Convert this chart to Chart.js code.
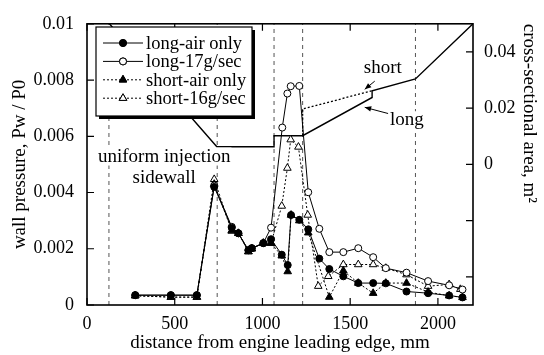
<!DOCTYPE html>
<html>
<head>
<meta charset="utf-8">
<script src="https://cdn.jsdelivr.net/npm/chart.js@4.4.0/dist/chart.umd.min.js"></script>
<style>
    html, body { margin: 0; padding: 0; background: #fff; }
    #wrap { width: 544px; height: 355px; }
</style>
</head>
<body>
<div id="wrap"><canvas id="chart" width="544" height="355"></canvas></div>
<script>
// Pressure taps, distance from engine leading edge (mm) and Pw/P0
const longAirX = [275, 478, 626, 725, 825, 863, 920, 939, 1005, 1049, 1110, 1144, 1163, 1210, 1261, 1324, 1381, 1461, 1546, 1631, 1703, 1821, 1944, 2064, 2140];
const longAirP = [0.00035, 0.00035, 0.00035, 0.0042, 0.00275, 0.00255, 0.00195, 0.00202, 0.0022, 0.00234, 0.00179, 0.00142, 0.0032, 0.00303, 0.00269, 0.00165, 0.00128, 0.00102, 0.00078, 0.00078, 0.00077, 0.00048, 0.00042, 0.00034, 0.00027];

const long17X = [275, 478, 626, 725, 825, 863, 920, 939, 1005, 1049, 1113, 1142, 1161, 1210, 1261, 1324, 1381, 1461, 1546, 1631, 1703, 1821, 1944, 2064, 2140];
const long17P = [0.00035, 0.00035, 0.00035, 0.00425, 0.00278, 0.00255, 0.00195, 0.00202, 0.0022, 0.00275, 0.00631, 0.00752, 0.00778, 0.00779, 0.00401, 0.00271, 0.00188, 0.00188, 0.00202, 0.0017, 0.00131, 0.00115, 0.00085, 0.0007, 0.00055];

const shortAirX = [275, 478, 626, 725, 825, 863, 920, 939, 1005, 1049, 1110, 1144, 1163, 1210, 1261, 1381, 1461, 1546, 1631, 1703, 1821, 1944, 2064, 2140];
const shortAirP = [0.00033, 0.00028, 0.00028, 0.0043, 0.00265, 0.00255, 0.0019, 0.002, 0.0022, 0.0022, 0.00175, 0.00119, 0.0032, 0.003, 0.00257, 0.00028, 0.00122, 0.00078, 0.00042, 0.00078, 0.00078, 0.00046, 0.00033, 0.00027];

const short16X = [275, 478, 626, 725, 825, 863, 920, 939, 1005, 1049, 1110, 1142, 1161, 1205, 1258, 1318, 1375, 1461, 1546, 1631, 1703, 1821, 1944, 2064, 2128];
const short16P = [0.00033, 0.00028, 0.00028, 0.00447, 0.00263, 0.00255, 0.0019, 0.002, 0.0022, 0.0022, 0.00352, 0.00487, 0.00588, 0.00562, 0.0032, 0.00067, 0.00102, 0.00144, 0.00144, 0.00144, 0.00131, 0.00108, 0.00067, 0.00073, 0.00056];

// Cross-sectional area outline (right axis, m^2)
const longAreaX = [121, 740, 1066, 1066, 1229, 1625, 1625, 1872, 2200];
const longAreaA = [0.0505, 0.0063, 0.0063, 0.0102, 0.0102, 0.0238, 0.0262, 0.0304, 0.05];
const shortAreaX = [1229, 1229, 1625];
const shortAreaA = [0.0102, 0.0197, 0.0262];

// Section boundaries (dashed verticals)
const dividerX = [125, 742, 1066, 1229, 1872];

// Axis ticks
const xTicks = [0, 500, 1000, 1500, 2000];
const pTicks = [0, 0.002, 0.004, 0.006, 0.008, 0.01];
const areaTicks = [-0.04, -0.02, 0, 0.02, 0.04];

const seriesNames = ['long-air only', 'long-17g/sec', 'short-air only', 'short-16g/sec'];

const FONT = "'Liberation Serif', 'Times New Roman', serif";

function pairs(xs, ys) {
    return xs.map((x, i) => ({ x: x, y: ys[i] }));
}

function fmt(v) {
    if (Math.abs(v) < 1e-12) return '0';
    return String(parseFloat(v.toFixed(4)));
}

const seriesStyles = [
    { fill: '#000', style: 'circle', radius: 3.5, dash: [] },
    { fill: '#fff', style: 'circle', radius: 3.5, dash: [] },
    { fill: '#000', style: 'triangle', radius: 4.4, dash: [2, 2] },
    { fill: '#fff', style: 'triangle', radius: 4.4, dash: [2, 2] }
];
const seriesData = [
    pairs(longAirX, longAirP),
    pairs(long17X, long17P),
    pairs(shortAirX, shortAirP),
    pairs(short16X, short16P)
];

const datasets = [];
seriesData.forEach((d, i) => {
    const s = seriesStyles[i];
    datasets.push({
        label: seriesNames[i],
        data: d,
        yAxisID: 'y',
        borderColor: '#000',
        borderWidth: 1,
        borderDash: s.dash,
        backgroundColor: s.fill,
        pointStyle: s.style,
        pointRadius: s.radius,
        pointBorderWidth: 1,
        pointBorderColor: '#000',
        pointBackgroundColor: s.fill,
        tension: 0,
        order: 1
    });
});

datasets.push({
    label: 'long area',
    data: pairs(longAreaX, longAreaA),
    yAxisID: 'y2',
    borderColor: '#000',
    borderWidth: 1.4,
    pointRadius: 0,
    order: 2
});
datasets.push({
    label: 'short area',
    data: pairs(shortAreaX, shortAreaA),
    yAxisID: 'y2',
    borderColor: '#000',
    borderWidth: 1.3,
    borderDash: [2, 2],
    pointRadius: 0,
    order: 2
});

dividerX.forEach(x => {
    datasets.push({
        label: 'divider',
        data: [{ x: x, y: 0 }, { x: x, y: 0.01 }],
        yAxisID: 'y',
        borderColor: '#555',
        borderWidth: 1,
        borderDash: [4, 4],
        pointRadius: 0,
        order: 3
    });
});

// Text notes placed in data units
const notes = [
    { text: 'uniform injection', x: 440, y: 0.00528, axis: 'y' },
    { text: 'sidewall', x: 440, y: 0.00452, axis: 'y' },
    { text: 'short', x: 1686, y: 0.0341, axis: 'y2' },
    { text: 'long', x: 1823, y: 0.0157, axis: 'y2' }
];
const arrows = [
    { from: [1640, 0.0296], to: [1583, 0.0267] },
    { from: [1716, 0.0181], to: [1583, 0.0203] }
];

const notesPlugin = {
    id: 'notes',
    afterDatasetsDraw(chart) {
        const { ctx, scales } = chart;
        ctx.save();
        ctx.font = '19px ' + FONT;
        ctx.textAlign = 'center';
        ctx.textBaseline = 'middle';
        notes.forEach(n => {
            const px = scales.x.getPixelForValue(n.x);
            const py = scales[n.axis].getPixelForValue(n.y);
            const w = ctx.measureText(n.text).width;
            ctx.fillStyle = '#fff';
            ctx.fillRect(px - w / 2 - 1, py - 9, w + 2, 18);
            ctx.fillStyle = '#000';
            ctx.fillText(n.text, px, py);
        });
        ctx.strokeStyle = '#000';
        ctx.lineWidth = 1;
        arrows.forEach(a => {
            const x1 = scales.x.getPixelForValue(a.from[0]);
            const y1 = scales.y2.getPixelForValue(a.from[1]);
            const x2 = scales.x.getPixelForValue(a.to[0]);
            const y2 = scales.y2.getPixelForValue(a.to[1]);
            const ang = Math.atan2(y2 - y1, x2 - x1);
            ctx.beginPath();
            ctx.moveTo(x1, y1);
            ctx.lineTo(x2, y2);
            ctx.stroke();
            ctx.beginPath();
            ctx.moveTo(x2, y2);
            ctx.lineTo(x2 - 7 * Math.cos(ang - 0.4), y2 - 7 * Math.sin(ang - 0.4));
            ctx.lineTo(x2 - 7 * Math.cos(ang + 0.4), y2 - 7 * Math.sin(ang + 0.4));
            ctx.closePath();
            ctx.fillStyle = '#000';
            ctx.fill();
        });
        ctx.restore();
    }
};

const framePlugin = {
    id: 'frame',
    afterDatasetsDraw(chart) {
        const { ctx, chartArea: a, scales } = chart;
        ctx.save();
        ctx.strokeStyle = '#000';
        ctx.lineWidth = 1.6;
        ctx.strokeRect(a.left, a.top, a.right - a.left, a.bottom - a.top);
        ctx.lineWidth = 1.2;
        ctx.beginPath();
        scales.x.ticks.forEach(t => {
            const px = scales.x.getPixelForValue(t.value);
            ctx.moveTo(px, a.bottom);
            ctx.lineTo(px, a.bottom - 7);
            ctx.moveTo(px, a.top);
            ctx.lineTo(px, a.top + 7);
        });
        scales.y.ticks.forEach(t => {
            const py = scales.y.getPixelForValue(t.value);
            ctx.moveTo(a.left, py);
            ctx.lineTo(a.left + 7, py);
        });
        scales.y2.ticks.forEach(t => {
            const py = scales.y2.getPixelForValue(t.value);
            ctx.moveTo(a.right, py);
            ctx.lineTo(a.right - 7, py);
        });
        ctx.stroke();
        ctx.restore();
    }
};

const legendPlugin = {
    id: 'boxLegend',
    afterDraw(chart) {
        const { ctx } = chart;
        const box = { l: 96, t: 27, w: 156, h: 89 };
        ctx.save();
        ctx.fillStyle = '#000';
        ctx.fillRect(box.l + 3, box.t + 3, box.w, box.h);
        ctx.fillStyle = '#fff';
        ctx.fillRect(box.l, box.t, box.w, box.h);
        ctx.strokeStyle = '#000';
        ctx.lineWidth = 1.2;
        ctx.strokeRect(box.l, box.t, box.w, box.h);
        ctx.font = '18.5px ' + FONT;
        ctx.textBaseline = 'middle';
        ctx.textAlign = 'left';
        seriesNames.forEach((name, i) => {
            const s = seriesStyles[i];
            const y = box.t + 16 + i * 18.4;
            ctx.beginPath();
            ctx.setLineDash(s.dash);
            ctx.lineWidth = 1;
            ctx.moveTo(box.l + 7, y);
            ctx.lineTo(box.l + 47, y);
            ctx.stroke();
            ctx.setLineDash([]);
            Chart.helpers.drawPoint(ctx, {
                pointStyle: s.style, radius: s.radius, borderWidth: 1, rotation: 0
            }, box.l + 27, y);
            ctx.fillStyle = s.fill;
            ctx.fill();
            ctx.stroke();
            ctx.fillStyle = '#000';
            ctx.fillText(name, box.l + 50, y + 1);
        });
        ctx.restore();
    }
};

const ctx = document.getElementById('chart').getContext('2d');
new Chart(ctx, {
    type: 'line',
    data: { datasets: datasets },
    options: {
        responsive: false,
        animation: false,
        layout: { padding: { top: 15, left: 0, right: 0, bottom: 0 } },
        plugins: {
            legend: { display: false },
            tooltip: { enabled: false }
        },
        scales: {
            x: {
                type: 'linear',
                min: 0,
                max: 2200,
                afterBuildTicks: s => { s.ticks = xTicks.map(v => ({ value: v })); },
                afterFit: s => { s.height = 50; },
                grid: { display: false, drawTicks: false },
                border: { display: false },
                ticks: {
                    color: '#000',
                    font: { family: FONT, size: 18 },
                    padding: 8,
                    maxRotation: 0,
                    callback: v => fmt(v)
                },
                title: {
                    display: true,
                    text: 'distance from engine leading edge, mm',
                    color: '#000',
                    font: { family: FONT, size: 19 },
                    padding: { top: 0, bottom: 1 }
                }
            },
            y: {
                type: 'linear',
                position: 'left',
                min: 0,
                max: 0.01,
                afterBuildTicks: s => { s.ticks = pTicks.map(v => ({ value: v })); },
                afterFit: s => { s.width = 87; },
                grid: { display: false, drawTicks: false },
                border: { display: false },
                ticks: {
                    color: '#000',
                    font: { family: FONT, size: 18 },
                    padding: 13,
                    callback: v => fmt(v)
                },
                title: {
                    display: true,
                    text: 'wall pressure, Pw / P0',
                    color: '#000',
                    font: { family: FONT, size: 19 },
                    padding: { top: 9, bottom: 0 }
                }
            },
            y2: {
                type: 'linear',
                position: 'right',
                min: -0.05,
                max: 0.05,
                afterBuildTicks: s => { s.ticks = areaTicks.map(v => ({ value: v })); },
                afterFit: s => { s.width = 71; },
                grid: { display: false, drawTicks: false },
                border: { display: false },
                ticks: {
                    color: '#000',
                    font: { family: FONT, size: 18 },
                    padding: 11,
                    callback: v => (v < -1e-9 ? '' : fmt(v))
                },
                title: {
                    display: true,
                    text: 'cross-sectional area, m²',
                    color: '#000',
                    align: 'end',
                    font: { family: FONT, size: 19 },
                    padding: { top: 4, bottom: 0 }
                }
            }
        }
    },
    plugins: [notesPlugin, framePlugin, legendPlugin]
});
</script>
</body>
</html>
